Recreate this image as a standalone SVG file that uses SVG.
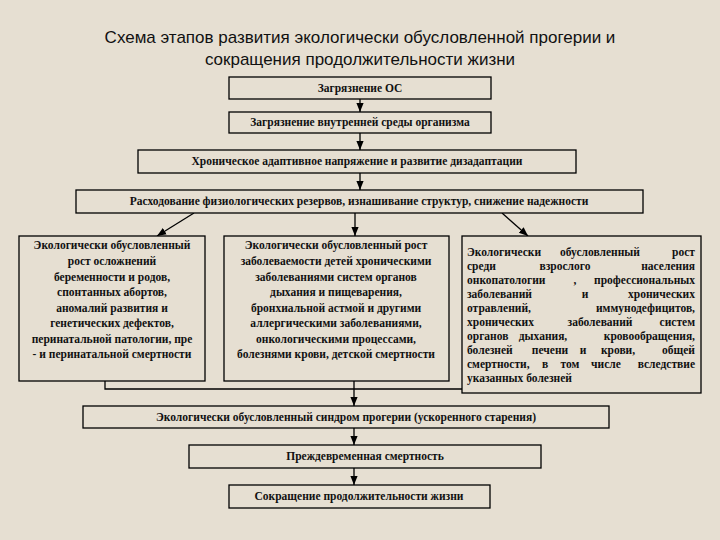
<svg xmlns="http://www.w3.org/2000/svg" width="720" height="540" viewBox="0 0 720 540">
<defs>
<marker id="ah" viewBox="0 0 10 10" refX="10" refY="5" markerWidth="7" markerHeight="7" orient="auto"><path d="M0,1 L10,5 L0,9 z" fill="#000"/></marker>
<style>
.b{fill:#e6dfd2;stroke:#000;stroke-width:1.3}
.t{font-family:"Liberation Serif",serif;font-size:11.5px;font-weight:bold;fill:#111;text-anchor:middle}
.j text{font-family:"Liberation Serif",serif;font-size:11.5px;font-weight:bold;fill:#111}
.j .m{text-anchor:middle}
.j .e{text-anchor:end}
.h{font-family:"Liberation Sans",sans-serif;font-size:17px;fill:#111;text-anchor:middle}
.c{stroke:#000;stroke-width:1.3;fill:none}
</style>
</defs>
<rect width="720" height="540" fill="#e6dfd2"/>
<g id="title"><text class="h" x="360" y="43">Схема этапов развития экологически обусловленной прогерии и</text><text class="h" x="360" y="65">сокращения продолжительности жизни</text></g>
<g id="connectors">
<path class="c" d="M360 99V112" marker-end="url(#ah)"/>
<path class="c" d="M360 133V150" marker-end="url(#ah)"/>
<path class="c" d="M360 173V190" marker-end="url(#ah)"/>
<path class="c" d="M194 213L157 236" marker-end="url(#ah)"/>
<path class="c" d="M355 213V236" marker-end="url(#ah)"/>
<path class="c" d="M502 213L528 236" marker-end="url(#ah)"/>
<path class="c" d="M105 381V389H462"/>
<path class="c" d="M354 381V406" marker-end="url(#ah)"/>
<path class="c" d="M354 428V445" marker-end="url(#ah)"/>
<path class="c" d="M354 468V485" marker-end="url(#ah)"/>
</g>
<g id="n1"><rect class="b" x="229" y="77" width="262" height="22"/><text class="t" x="360" y="92">Загрязнение ОС</text></g>
<g id="n2"><rect class="b" x="229" y="112" width="262" height="21"/><text class="t" x="360" y="126">Загрязнение внутренней среды организма</text></g>
<g id="n3"><rect class="b" x="138" y="150" width="438" height="23"/><text class="t" x="357" y="165">Хроническое адаптивное напряжение и развитие дизадаптации</text></g>
<g id="n4"><rect class="b" x="76" y="190" width="567" height="23"/><text class="t" x="359" y="205">Расходование физиологических резервов, изнашивание структур, снижение надежности</text></g>
<g id="n5"><rect class="b" x="19" y="236" width="186" height="145"/>
<text class="t" x="112" y="249">Экологически обусловленный</text><text class="t" x="112" y="265">рост осложнений</text><text class="t" x="112" y="281">беременности и родов,</text><text class="t" x="112" y="296">спонтанных абортов,</text><text class="t" x="112" y="312">аномалий развития и</text><text class="t" x="112" y="327">генетических дефектов,</text><text class="t" x="112" y="343">перинатальной патологии, пре</text><text class="t" x="112" y="358">- и перинатальной смертности</text></g>
<g id="n6"><rect class="b" x="224" y="236" width="225" height="145"/>
<text class="t" x="336" y="249">Экологически обусловленный рост</text><text class="t" x="336" y="265">заболеваемости детей хроническими</text><text class="t" x="336" y="281">заболеваниями систем органов</text><text class="t" x="336" y="296">дыхания и пищеварения,</text><text class="t" x="336" y="312">бронхиальной астмой и другими</text><text class="t" x="336" y="327">аллергическими заболеваниями,</text><text class="t" x="336" y="343">онкологическими процессами,</text><text class="t" x="336" y="358">болезнями крови, детской смертности</text></g>
<g id="n7"><rect class="b" x="462" y="236" width="239" height="157"/>
<g class="j">
<text x="467" y="256">Экологически</text><text class="m" x="600" y="256">обусловленный</text><text class="e" x="695" y="256">рост</text>
<text x="467" y="270">среди</text><text class="m" x="565" y="270">взрослого</text><text class="e" x="695" y="270">населения</text>
<text x="467" y="284">онкопатологии</text><text class="m" x="575" y="284">,</text><text class="e" x="695" y="284">профессиональных</text>
<text x="467" y="298">заболеваний</text><text class="m" x="585" y="298">и</text><text class="e" x="695" y="298">хронических</text>
<text x="467" y="312">отравлений,</text><text class="e" x="695" y="312">иммунодефицитов,</text>
<text x="467" y="326">хронических</text><text class="m" x="600" y="326">заболеваний</text><text class="e" x="695" y="326">систем</text>
<text x="467" y="340">органов</text><text class="m" x="543" y="340">дыхания,</text><text class="e" x="695" y="340">кровообращения,</text>
<text x="467" y="354">болезней</text><text class="m" x="550" y="354">печени</text><text class="m" x="583" y="354">и</text><text class="m" x="618" y="354">крови,</text><text class="e" x="695" y="354">общей</text>
<text x="467" y="368">смертности,</text><text class="m" x="545" y="368">в</text><text class="m" x="570" y="368">том</text><text class="m" x="606" y="368">числе</text><text class="e" x="695" y="368">вследствие</text>
<text x="467" y="382">указанных болезней</text></g></g>
<g id="n8"><rect class="b" x="83" y="406" width="526" height="22"/><text class="t" x="346" y="421">Экологически обусловленный синдром прогерии (ускоренного старения)</text></g>
<g id="n9"><rect class="b" x="189" y="445" width="352" height="23"/><text class="t" x="365" y="460">Преждевременная смертность</text></g>
<g id="n10"><rect class="b" x="229" y="485" width="261" height="23"/><text class="t" x="359" y="500">Сокращение продолжительности жизни</text></g>
</svg>
